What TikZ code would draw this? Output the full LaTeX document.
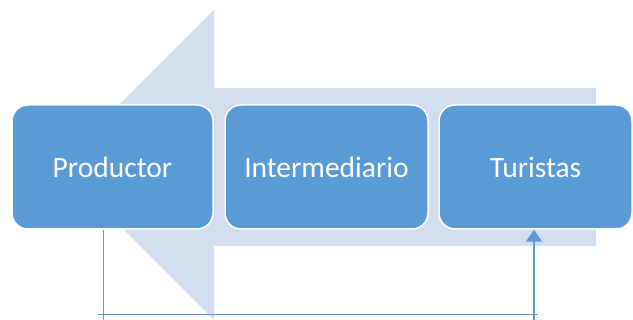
\documentclass[tikz,border=0pt]{standalone}
\usepackage{fontspec}
\setmainfont{Carlito}
\usetikzlibrary{arrows.meta}
\definecolor{cajaazul}{HTML}{5B9BD5}
\definecolor{flechaclara}{HTML}{D2DEEF}

\begin{document}
\begin{tikzpicture}[x=1pt, y=-1pt,
    caja/.style={draw=white, line width=1.5pt, fill=cajaazul, rounded corners=16pt,
        minimum width=201pt, minimum height=124pt, text=white,
        font=\fontsize{29.5}{32}\selectfont},
    linea/.style={draw=cajaazul, line width=1pt}]
    \useasboundingbox (0,0) rectangle (633,320);
    % flecha de fondo
    \fill[flechaclara] (59,165) -- (214,10) -- (214,88) -- (596,88) -- (596,246)
        -- (214,246) -- (214,320) -- cycle;
    \node[caja] (prod) at (112.5,167) {Productor};
    \node[caja, minimum width=203pt] (inter) at (326.5,167) {Intermediario};
    \node[caja, minimum width=193pt] (tur) at (535.5,167) {Turistas};
    \coordinate (pabajo) at (103,320);
    \coordinate (tabajo) at (534,320);
    \coordinate (hizq) at (98,315);
    \coordinate (hder) at (538,315);
    \draw[linea] (prod.south -| pabajo) -- (pabajo);
    \draw[linea] (hizq) -- (hder);
    \draw[linea, line width=1.8pt, -{Triangle[length=12pt, width=16pt]}] (tabajo) -- (tur.south -| tabajo);
\end{tikzpicture}
\end{document}
